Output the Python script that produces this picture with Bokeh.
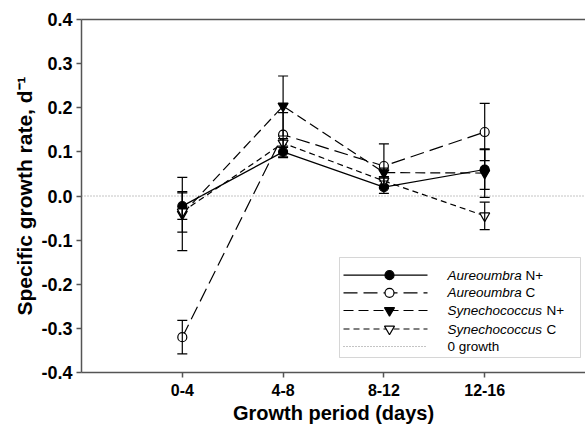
from bokeh.plotting import figure
from bokeh.models import (ColumnDataSource, Whisker, FixedTicker, LinearAxis, Span,
                          Range1d, PrintfTickFormatter, TeeHead, BoxAnnotation)
from bokeh.core.properties import value
from bokeh.embed import file_html
from bokeh.resources import INLINE

# ---------------- data ----------------
periods = ["0-4", "4-8", "8-12", "12-16"]
aur_n = [-0.023, 0.100, 0.020, 0.060]
aur_n_err = [0.030, 0.013, 0.014, 0.045]
aur_c = [-0.320, 0.139, 0.068, 0.145]
aur_c_err = [0.038, 0.050, 0.050, 0.065]
syn_n = [-0.041, 0.204, 0.053, 0.052]
syn_n_err = [0.083, 0.068, 0.010, 0.055]
syn_c = [-0.036, 0.120, 0.034, -0.045]
syn_c_err = [0.046, 0.010, 0.010, 0.031]
y_ticks = [-0.4, -0.3, -0.2, -0.1, 0.0, 0.1, 0.2, 0.3, 0.4]
legend_species = ["Aureoumbra", "Aureoumbra", "Synechococcus", "Synechococcus"]
legend_suffix = ["N+", "C", "N+", "C"]
zero_label = "0 growth"
x_title = "Growth period (days)"
y_title = "Specific growth rate, d\u207b\u00b9"

FONT = "Liberation Sans"
xs = list(range(1, len(periods) + 1))

p = figure(width=585, height=426, output_backend="svg", toolbar_location=None,
           x_range=Range1d(0, 5), y_range=Range1d(-0.4, 0.4),
           min_border_left=81, min_border_right=0, min_border_top=19, min_border_bottom=53)
p.outline_line_color = None
p.xgrid.visible = False
p.ygrid.visible = False

AX_COL = "#555555"
for ax in (p.xaxis[0], p.yaxis[0]):
    ax.axis_line_color = AX_COL
    ax.axis_line_width = 1.5
    ax.major_tick_line_color = AX_COL
    ax.major_tick_line_width = 1.5
    ax.major_tick_in = 0
    ax.major_tick_out = 5
    ax.minor_tick_line_color = None
    ax.major_label_text_font = FONT
    ax.major_label_text_font_style = "bold"
    ax.major_label_text_color = "black"
    ax.axis_label_text_font = FONT
    ax.axis_label_text_font_style = "bold"
    ax.axis_label_text_color = "black"

p.xaxis.ticker = FixedTicker(ticks=xs)
p.xaxis.major_label_overrides = {x: lab for x, lab in zip(xs, periods)}
p.xaxis.major_label_text_font_size = "16px"
p.xaxis.major_label_standoff = 6
p.xaxis.axis_label = x_title
p.xaxis.axis_label_text_font_size = "20px"
p.xaxis.axis_label_standoff = 3

p.yaxis.ticker = FixedTicker(ticks=y_ticks)
p.yaxis.formatter = PrintfTickFormatter(format="%.1f")
p.yaxis.major_label_text_font_size = "18px"
p.yaxis.major_label_standoff = 4
p.yaxis.axis_label = y_title
p.yaxis.axis_label_text_font_size = "21px"
p.yaxis.axis_label_standoff = 2

top_axis = LinearAxis(ticker=FixedTicker(ticks=[]), axis_line_color=AX_COL, axis_line_width=1.5,
                      major_tick_line_color=None, minor_tick_line_color=None,
                      major_label_text_font_size="0px", major_label_standoff=0)
p.add_layout(top_axis, "above")

p.add_layout(Span(location=0, dimension="width", line_color="#888888", line_dash="1 2", line_width=1))

series = [
    (aur_n, aur_n_err, "solid", "circle", 9, "black"),
    (aur_c, aur_c_err, "14 6", "circle", 9, "white"),
    (syn_n, syn_n_err, "10 5", "inverted_triangle", 10, "black"),
    (syn_c, syn_c_err, "6 4", "inverted_triangle", 10, "white"),
]

for ys, errs, dash, marker, size, fill in series:
    p.line(xs, ys, line_color="black", line_width=1.2, line_dash=dash)
for ys, errs, dash, marker, size, fill in series:
    p.scatter(xs, ys, marker=marker, size=size, fill_color=fill, line_color="black", line_width=1.2)
for ys, errs, dash, marker, size, fill in series:
    src = ColumnDataSource(dict(x=xs, upper=[y + e for y, e in zip(ys, errs)],
                                lower=[y - e for y, e in zip(ys, errs)]))
    w = Whisker(source=src, base="x", upper="upper", lower="lower", line_color="black", line_width=1.2,
                upper_head=TeeHead(size=10, line_color="black", line_width=1.2),
                lower_head=TeeHead(size=10, line_color="black", line_width=1.2), level="annotation")
    p.add_layout(w)

# ---------------- layout helpers: screen px -> data -------------
def px_x(px):
    return (px - 81) / 100.8

def px_y(py):
    return 0.4 - (py - 20) / 441.25

# ---------------- legend (drawn manually) -------------
p.add_layout(BoxAnnotation(left=px_x(339), right=px_x(580), top=px_y(258), bottom=px_y(358),
                           fill_color="white", fill_alpha=1, line_color="#777777", line_width=1,
                           level="annotation"))
rows = [275.7, 293.3, 311.0, 329.5, 347.0]
offsets = [78, 78, 99, 99]
for i, (ys, errs, dash, marker, size, fill) in enumerate(series):
    ry = px_y(rows[i])
    p.line([px_x(343), px_x(427)], [ry, ry], line_color="black", line_width=1.2, line_dash=dash, level="overlay")
    p.scatter([px_x(389)], [ry], marker=marker, size=size, fill_color=fill, line_color="black",
              line_width=1.2, level="overlay")
    p.text([px_x(447)], [ry], text=[legend_species[i]], text_font=value(FONT), text_font_size="13.5px",
           text_font_style="italic", text_baseline="middle", text_color="black", level="overlay")
    p.text([px_x(447)], [ry], text=[legend_suffix[i]], text_font=value(FONT), text_font_size="13.5px",
           text_baseline="middle", text_color="black", x_offset=offsets[i], level="overlay")
ry = px_y(rows[4])
p.line([px_x(343), px_x(427)], [ry, ry], line_color="#888888", line_width=1, line_dash="1 2", level="overlay")
p.text([px_x(447)], [ry], text=[zero_label], text_font=value(FONT), text_font_size="13.5px",
       text_baseline="middle", text_color="black", level="overlay")

open("out.html", "w").write(file_html(p, INLINE))
